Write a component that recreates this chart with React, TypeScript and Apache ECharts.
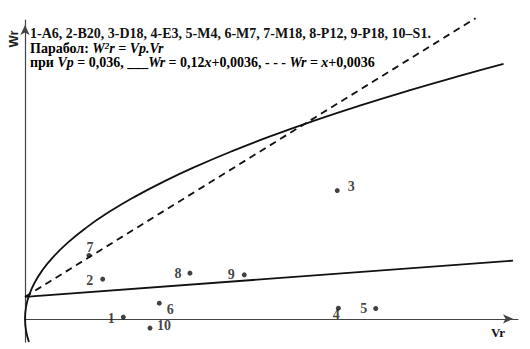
import React, { useEffect, useRef } from "react";
import * as echarts from "echarts";

// Experimental points: [Vr, Wr]
const pointLabels = ["1", "2", "3", "4", "5", "6", "7", "8", "9", "10"];
const pointVr = [0.00997, 0.00788, 0.03167, 0.03178, 0.03557, 0.01362, 0.00649, 0.01673, 0.02224, 0.01268];
const pointWr = [0.00028, 0.00651, 0.02103, 0.00175, 0.00169, 0.00257, 0.01038, 0.00749, 0.00721, -0.00152];
const labelOffsets: [number, number][] = [
  [-12, 1], [-13, 1], [14, -4], [-2, 6], [-12, 0], [11, 6], [1, -8], [-12, 0], [-13, 0], [14, -3],
];

// Parabola W²r = Vp·Vr with Vp = 0.036 (sampled points)
const parabolaVr = [0.000401, 0.000111, 0, 0.000111, 0.000444, 0.001, 0.001778, 0.002778, 0.00434, 0.00625, 0.008507, 0.011111, 0.014063, 0.017361, 0.021007, 0.025, 0.02934, 0.034028, 0.039063, 0.044444, 0.048534];
const parabolaWr = [-0.0038, -0.002, 0, 0.002, 0.004, 0.006, 0.008, 0.01, 0.0125, 0.015, 0.0175, 0.02, 0.0225, 0.025, 0.0275, 0.03, 0.0325, 0.035, 0.0375, 0.04, 0.0418];

// Wr = 0.12x + 0.0036 (solid)
const solidLineVr = [0, 0.0495];
const solidLineWr = [0.0036, 0.00954];
// Wr = x + 0.0036 (dashed)
const dashedLineVr = [0, 0.0457];
const dashedLineWr = [0.0036, 0.0493];

const titleLine1 = "1-A6, 2-B20, 3-D18, 4-E3, 5-M4, 6-M7, 7-M18, 8-P12, 9-P18, 10–S1.";

const SERIF = "Liberation Serif";
const FS = 14;

export default function App() {
  const ref = useRef<HTMLDivElement>(null);
  useEffect(() => {
    if (!ref.current) return;
    const chart = echarts.init(ref.current, null, { renderer: "svg" });
    const rich = {
      b: { fontFamily: SERIF, fontWeight: "bold", fontSize: FS, color: "#111" },
      i: { fontFamily: SERIF, fontWeight: "bold", fontStyle: "italic", fontSize: FS, color: "#111" },
      sup: { fontFamily: SERIF, fontWeight: "bold", fontStyle: "italic", fontSize: 9, color: "#111", verticalAlign: "top", padding: [0, 0, 5, 0] },
    };
    chart.setOption({
      animation: false,
      backgroundColor: "#fff",
      grid: { left: 25, right: 12, top: 20, bottom: 7 },
      xAxis: {
        type: "value",
        min: 0,
        max: 0.05,
        axisLine: { onZero: true, lineStyle: { color: "#444", width: 1.2 }, symbol: ["none", "arrow"], symbolSize: [7, 10], symbolOffset: [0, -5] },
        axisTick: { show: false },
        axisLabel: { show: false },
        splitLine: { show: false },
      },
      yAxis: {
        type: "value",
        min: -0.0038,
        max: 0.049,
        axisLine: { show: true, onZero: false, lineStyle: { color: "#444", width: 1.2 }, symbol: ["none", "arrow"], symbolSize: [7, 10], symbolOffset: [0, -5] },
        axisTick: { show: false },
        axisLabel: { show: false },
        splitLine: { show: false },
      },
      series: [
        {
          type: "line",
          data: parabolaVr.map((v, i) => [v, parabolaWr[i]]),
          smooth: true,
          showSymbol: false,
          clip: false,
          lineStyle: { color: "#111", width: 1.8 },
        },
        {
          type: "line",
          data: solidLineVr.map((v, i) => [v, solidLineWr[i]]),
          showSymbol: false,
          clip: false,
          lineStyle: { color: "#111", width: 1.8 },
        },
        {
          type: "line",
          data: dashedLineVr.map((v, i) => [v, dashedLineWr[i]]),
          showSymbol: false,
          clip: false,
          lineStyle: { color: "#111", width: 1.8, type: [7, 5] },
        },
        {
          type: "scatter",
          symbolSize: 5,
          itemStyle: { color: "#111" },
          clip: false,
          data: pointVr.map((v, i) => ({
            value: [v, pointWr[i]],
            label: {
              show: true,
              formatter: pointLabels[i],
              position: "inside",
              offset: labelOffsets[i],
              fontFamily: SERIF,
              fontWeight: "bold",
              fontSize: FS,
              color: "#111",
            },
          })),
        },
      ],
      graphic: [
        {
          type: "text",
          x: 30,
          y: 33.5,
          style: { text: titleLine1, fontFamily: SERIF, fontWeight: "bold", fontSize: FS, fill: "#111", verticalAlign: "middle" },
        },
        {
          type: "text",
          x: 30,
          y: 48,
          style: {
            text: "{b|Парабол: }{i|W}{sup|2}{i|r = Vp.Vr}",
            rich,
            verticalAlign: "middle",
          },
        },
        {
          type: "text",
          x: 30,
          y: 62.5,
          style: {
            text: "{b|при }{i|Vp}{b| = 0,036, ___}{i|Wr}{b| = 0,12}{i|x}{b|+0,0036, - - - }{i|Wr}{b| = }{i|x}{b|+0,0036}",
            rich,
            verticalAlign: "middle",
          },
        },
        {
          type: "text",
          x: 13.5,
          y: 39,
          rotation: Math.PI / 2,
          style: { text: "Wr", fontFamily: "Liberation Sans", fontWeight: "bold", fontSize: 13, fill: "#222", align: "center", verticalAlign: "middle" },
        },
        {
          type: "text",
          x: 498,
          y: 332,
          style: { text: "Vr", fontFamily: SERIF, fontWeight: "bold", fontSize: 13, fill: "#111", align: "center", verticalAlign: "middle" },
        },
      ],
    });
    return () => chart.dispose();
  }, []);
  return (
    <div
      ref={ref}
      style={{ position: "absolute", left: 0, top: 0, width: 530, height: 349, background: "#fff" }}
    />
  );
}
